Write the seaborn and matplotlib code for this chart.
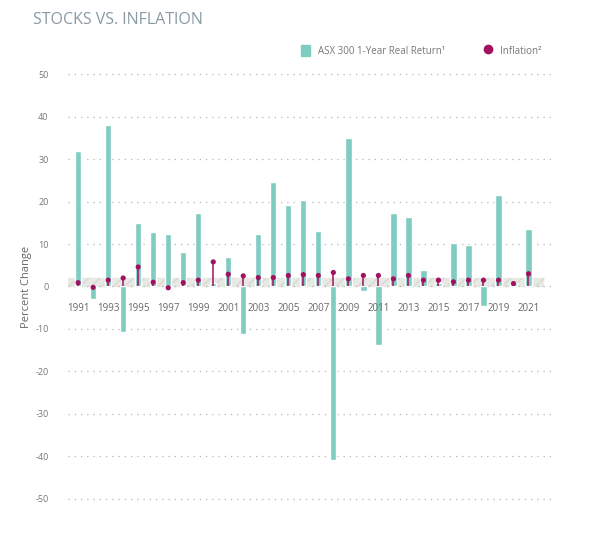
import matplotlib
matplotlib.use("Agg")
import matplotlib.pyplot as plt
import seaborn as sns
import pandas as pd
import numpy as np

years = list(range(1991, 2022))
asx_real = [32, -3, 38, -10.8, 15, 12.8, 12.3, 8.2, 17.3, 0.8, 7, -11.3, 12.3, 24.7, 19.2,
            20.5, 13.2, -41, 35, -1, -13.7, 17.3, 16.4, 3.8, 0.8, 10.3, 9.8, -4.5, 21.6, 0.8, 13.5]
inflation = [0.9, -0.2, 1.5, 2.0, 4.6, 1.0, -0.3, 0.9, 1.5, 5.8, 2.9, 2.5, 2.1, 2.1, 2.6,
             2.8, 2.6, 3.3, 1.8, 2.6, 2.6, 1.8, 2.6, 1.5, 1.5, 1.1, 1.5, 1.5, 1.5, 0.7, 3.0]
yticks = [50, 40, 30, 20, 10, 0, -10, -20, -30, -40, -50]
label_years = years[::2]

sns.set_style("white")
plt.rcParams['font.family'] = ['Open Sans', 'DejaVu Sans']

teal = "#7fcdc1"
plum = "#a0125f"

fig = plt.figure(figsize=(5.92, 5.36), dpi=100)
ax = fig.add_axes([0.115, 0.058, 0.815, 0.815])

df = pd.DataFrame({"year": years, "asx": asx_real, "infl": inflation})

# grey floor band
ax.axhspan(0, 2, xmin=0, xmax=0.985, color="#e8e8e5", zorder=0)
ax.fill_between([1990.33, 2022.2], 0, 2, facecolor="none", edgecolor="#d8d8d5",
                hatch="///", linewidth=0, zorder=0)

ax.bar(df["year"], df["asx"], width=0.42, color=teal, zorder=2)
ax.vlines(df["year"], 0, df["infl"], color=plum, linewidth=1.1, zorder=3)
sns.scatterplot(data=df, x="year", y="infl", color=plum, s=14, edgecolor="none",
                ax=ax, zorder=4, legend=False)

for yv in yticks:
    ax.axhline(yv, color="#b5b5b5", linestyle=(0, (1, 4)), linewidth=0.9, zorder=1)

for yr in label_years:
    ax.text(yr, -5.2, str(yr), ha="center", va="center", fontsize=7, color="#666666")

ax.set_xlim(1990.33, 2022.47)
ax.set_ylim(-51.5, 51.5)
ax.set_yticks(yticks)
ax.set_yticklabels([str(v) for v in yticks], fontsize=6.5, color="#777777")
ax.set_xticks([])
ax.tick_params(axis="y", length=0, pad=14)
ax.set_xlabel("")
ax.set_ylabel("Percent Change", fontsize=8, color="#666666", labelpad=2)
for s in ax.spines.values():
    s.set_visible(False)

fig.text(0.055, 0.962, "STOCKS VS. INFLATION", fontsize=11.5, color="#8a9aa3", va="center")

from matplotlib.patches import Patch
from matplotlib.lines import Line2D
handles = [Patch(color=teal, label="ASX 300 1-Year Real Return¹"),
           Line2D([], [], marker="o", linestyle="none", color=plum, markersize=6, label="Inflation²")]
fig.legend(handles=handles, loc="center right", bbox_to_anchor=(0.93, 0.905), ncol=2,
           frameon=False, fontsize=7, labelcolor="#777777", handlelength=0.9,
           handleheight=1.3, columnspacing=4)

fig.savefig("out.png", dpi=100)
